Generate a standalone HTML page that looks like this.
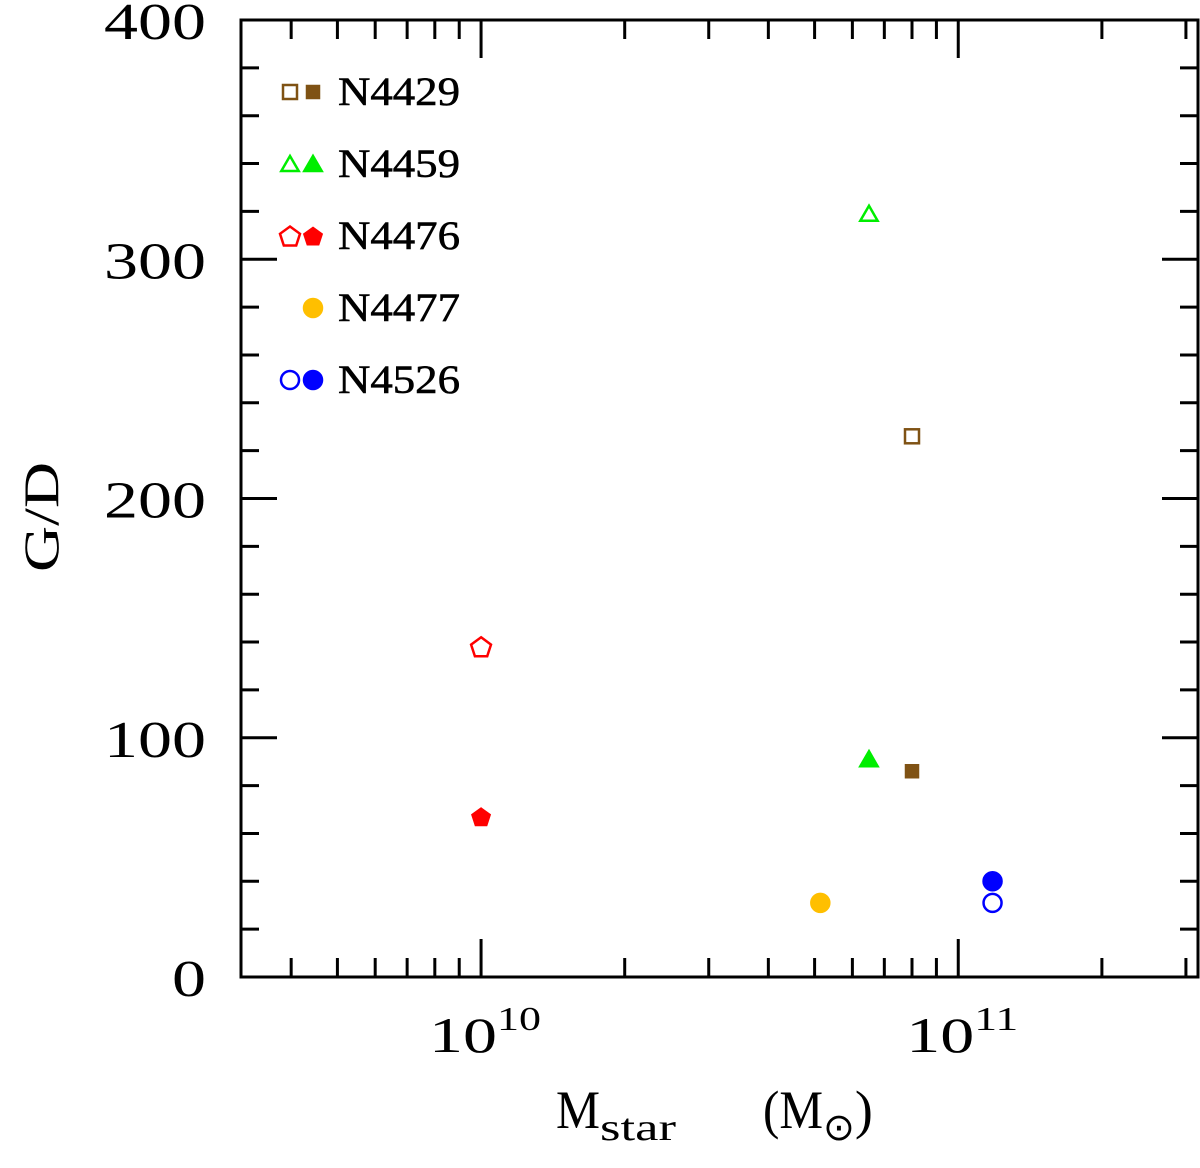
<!DOCTYPE html>
<html><head><meta charset="utf-8"><style>
body{margin:0;background:#fff;}
svg text{font-family:"Liberation Serif",serif;fill:#000;}
</style></head><body>
<svg id="chart" width="1200" height="1163" viewBox="0 0 1200 1163" xmlns="http://www.w3.org/2000/svg">
<g id="axes"></g>
<g id="marks"></g>
<g id="legend"></g>
<text x="58" y="517" font-size="50" text-anchor="middle" textLength="110" lengthAdjust="spacingAndGlyphs" transform="rotate(-90 58 517)">G/D</text>
<text x="556" y="1128" font-size="54"><tspan textLength="44" lengthAdjust="spacingAndGlyphs">M</tspan><tspan font-size="38" dy="12" textLength="76" lengthAdjust="spacingAndGlyphs">star</tspan><tspan dy="-12" x="763" textLength="60" lengthAdjust="spacingAndGlyphs">(M</tspan><tspan font-size="38" dy="12">⊙</tspan><tspan dy="-12">)</tspan></text>
</svg>
<script>
const galaxies=["N4429","N4459","N4476","N4477","N4526"];
const colors=["#7f5214","#00ee00","#ff0000","#ffbf00","#0000ff"];
const shapes=["square","triangle","pentagon","circle","circle"];
const mstar=[8.0e10,6.5e10,1.0e10,5.14e10,1.18e11];
const gdOpen=[226,319,138,null,31];
const gdFilled=[86,91,67,31,40];
const yTicks=[0,100,200,300,400];
const xTickExp=[10,11];

const NS="http://www.w3.org/2000/svg";
const L=241,R=1198,T=20,B=977;
const xmin=Math.log10(3.14e9),xmax=Math.log10(3.18e11);
const X=v=>L+(Math.log10(v)-xmin)/(xmax-xmin)*(R-L);
const Y=v=>B-v/400*(B-T);
function el(tag,attrs,parent){const e=document.createElementNS(NS,tag);for(const k in attrs)e.setAttribute(k,attrs[k]);parent.appendChild(e);return e;}
const ax=document.getElementById('axes');
const frame=el('rect',{x:L,y:T,width:R-L,height:B-T,fill:'none',stroke:'#000','stroke-width':3},ax);


for(let v=0;v<=400;v+=20){
  const len=(v%100===0)?36:18;const y=Y(v);
  const t1=el('line',{x1:L,x2:L+len,y1:y,y2:y,stroke:'#000','stroke-width':3},ax);
  
  
  const t2=el('line',{x1:R-len,x2:R,y1:y,y2:y,stroke:'#000','stroke-width':3},ax);
  
  
}
yTicks.forEach(v=>{
  const s=String(v);
  const t=el('text',{x:206,y:Y(v)+19,'font-size':52,'text-anchor':'end',textLength:s.length*34,lengthAdjust:'spacingAndGlyphs'},ax);t.textContent=s;
  
  
});
for(let e=9;e<=11;e++){for(let m=1;m<=9;m++){
  const v=m*Math.pow(10,e);const x=X(v);if(x<L+1||x>R+1)continue;
  const len=m===1?38:19;
  const a=el('line',{x1:x,x2:x,y1:B,y2:B-len,stroke:'#000','stroke-width':3},ax);
  
  
  const b=el('line',{x1:x,x2:x,y1:T,y2:T+len,stroke:'#000','stroke-width':3},ax);
  
  
}}
xTickExp.forEach(e=>{
  const x=X(Math.pow(10,e));
  const t=el('text',{x:x-52,y:1052,'font-size':50},ax);
  t.innerHTML='<tspan textLength="68" lengthAdjust="spacingAndGlyphs">10</tspan><tspan font-size="34" dy="-22" textLength="44" lengthAdjust="spacingAndGlyphs">'+e+'</tspan>';
  
  
});
function marker(shape,cx,cy,color,filled,parent){
  const st={fill:filled?color:'#fff',stroke:color,'stroke-width':2.5};let e;
  if(shape==='square'){const s=filled?12:14;e=el('rect',Object.assign({x:cx-s/2,y:cy-s/2,width:s,height:s},st),parent);}
  else if(shape==='circle'){e=el('circle',Object.assign({cx:cx,cy:cy,r:9},st),parent);}
  else{const n=shape==='triangle'?3:5;const r=shape==='triangle'?10:(filled?9:10.5);const pts=[];
    for(let i=0;i<n;i++){const a=-Math.PI/2+i*2*Math.PI/n;pts.push((cx+r*Math.cos(a)).toFixed(1)+','+(cy+r*Math.sin(a)+(n===3?2:1)).toFixed(1));}
    e=el('polygon',Object.assign({points:pts.join(' ')},st),parent);}
  return e;
}
const mk=document.getElementById('marks');
galaxies.forEach((g,i)=>{
  if(gdOpen[i]!==null){const m=marker(shapes[i],X(mstar[i]),Y(gdOpen[i]),colors[i],false,mk);
    
    }
  const f=marker(shapes[i],X(mstar[i]),Y(gdFilled[i]),colors[i],true,mk);
  
  
});
const lg=document.getElementById('legend');
galaxies.forEach((g,i)=>{
  const y=92+i*72;
  const grp=el('g',{},lg);
  
  
  if(gdOpen[i]!==null)marker(shapes[i],290,y,colors[i],false,grp);
  marker(shapes[i],313,y,colors[i],true,grp);
  const t=el('text',{x:338,y:y+13,'font-size':40,textLength:122,lengthAdjust:'spacingAndGlyphs',stroke:'#000','stroke-width':0.6},grp);t.textContent=g;
});
</script>
</body></html>
